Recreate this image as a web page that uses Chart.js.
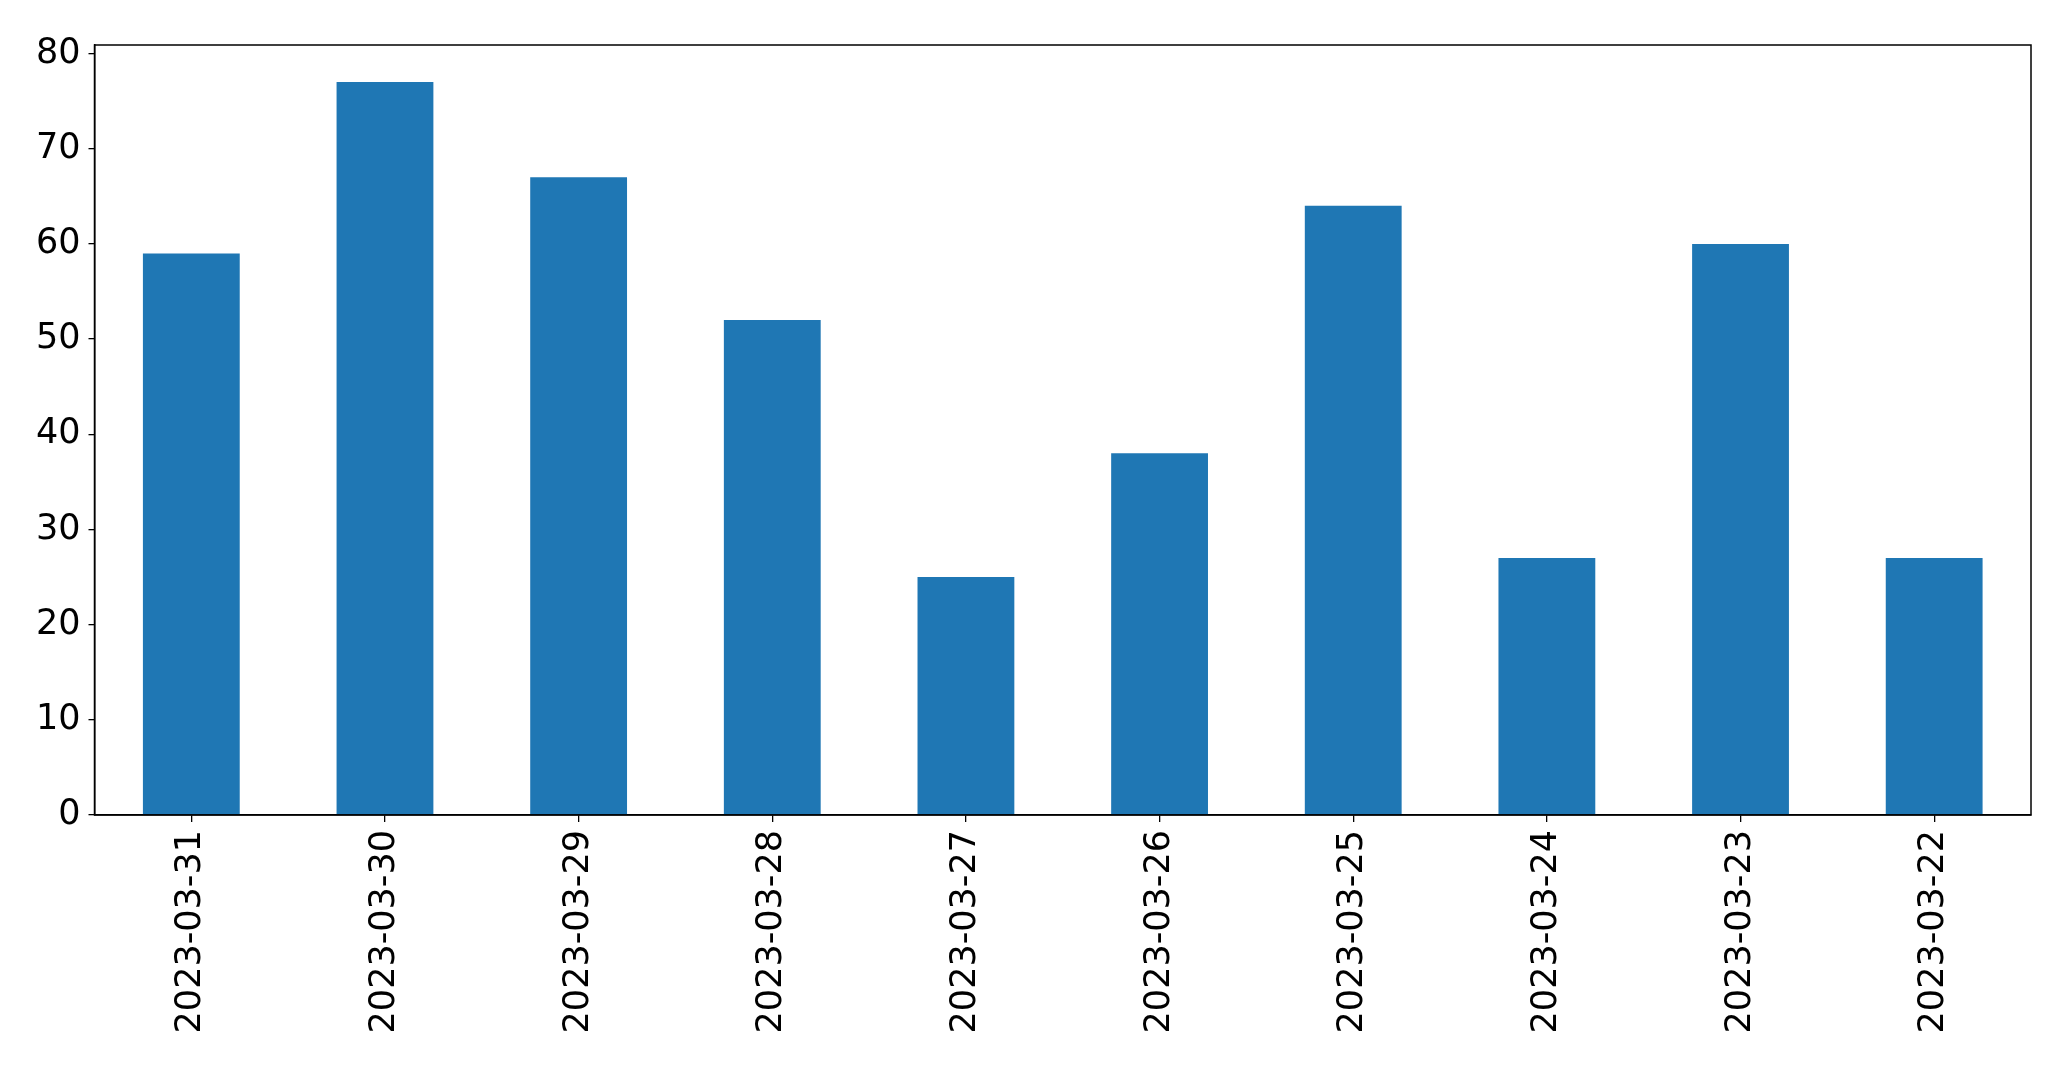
<!DOCTYPE html>
<html>
<head>
<meta charset="utf-8">
<script src="https://cdn.jsdelivr.net/npm/chart.js@4/dist/chart.umd.min.js"></script>
<style>
  html, body { margin: 0; padding: 0; background: #fff; }
  #wrap { width: 2071px; height: 1067px; }
</style>
</head>
<body>
<div id="wrap"><canvas id="chart" width="2071" height="1067"></canvas></div>
<script>
const dates = ["2023-03-31", "2023-03-30", "2023-03-29", "2023-03-28", "2023-03-27",
               "2023-03-26", "2023-03-25", "2023-03-24", "2023-03-23", "2023-03-22"];
const counts = [59, 77, 67, 52, 25, 38, 64, 27, 60, 27];
const yTicks = [0, 10, 20, 30, 40, 50, 60, 70, 80];

Chart.defaults.color = "#000";
Chart.defaults.font.family = "'DejaVu Sans', sans-serif";
Chart.defaults.font.size = 35;

// full box round the plot, like the matplotlib frame
const frame = {
    id: "frame",
    afterDraw(chart) {
        const a = chart.chartArea;
        const c = chart.ctx;
        c.save();
        c.strokeStyle = "#000";
        c.lineWidth = 1.5;
        c.strokeRect(a.left, a.top, a.right - a.left, a.bottom - a.top);
        c.restore();
    }
};

const ctx = document.getElementById("chart").getContext("2d");
const chart = new Chart(ctx, {
    type: "bar",
    data: {
        labels: dates,
        datasets: [{
            label: "count",
            data: counts,
            backgroundColor: "#1f77b4",
            borderWidth: 0,
            barPercentage: 0.5,
            categoryPercentage: 1.0
        }]
    },
    options: {
        responsive: false,
        animation: false,
        layout: { padding: { left: 0, top: 45, right: 40, bottom: 0 } },
        plugins: {
            legend: { display: false },
            tooltip: { enabled: false }
        },
        scales: {
            x: {
                grid: { display: true, offset: false, drawOnChartArea: false, drawTicks: true, tickLength: 7, color: "#000", lineWidth: 1.3 },
                border: { display: true, color: "#000", width: 1.5 },
                ticks: { autoSkip: false, minRotation: 90, maxRotation: 90, padding: 8 },
                afterFit(scale) { scale.height = 252; }
            },
            y: {
                min: 0,
                max: 80.9,
                grid: { display: true, drawOnChartArea: false, drawTicks: true, tickLength: 6, color: "#000", lineWidth: 1.3 },
                border: { display: true, color: "#000", width: 1.5 },
                ticks: { stepSize: 10, includeBounds: false, padding: 8 },
                afterBuildTicks(scale) { scale.ticks = yTicks.map(v => ({ value: v })); },
                afterFit(scale) { scale.width = 94.5; }
            }
        }
    },
    plugins: [frame]
});
</script>
</body>
</html>
